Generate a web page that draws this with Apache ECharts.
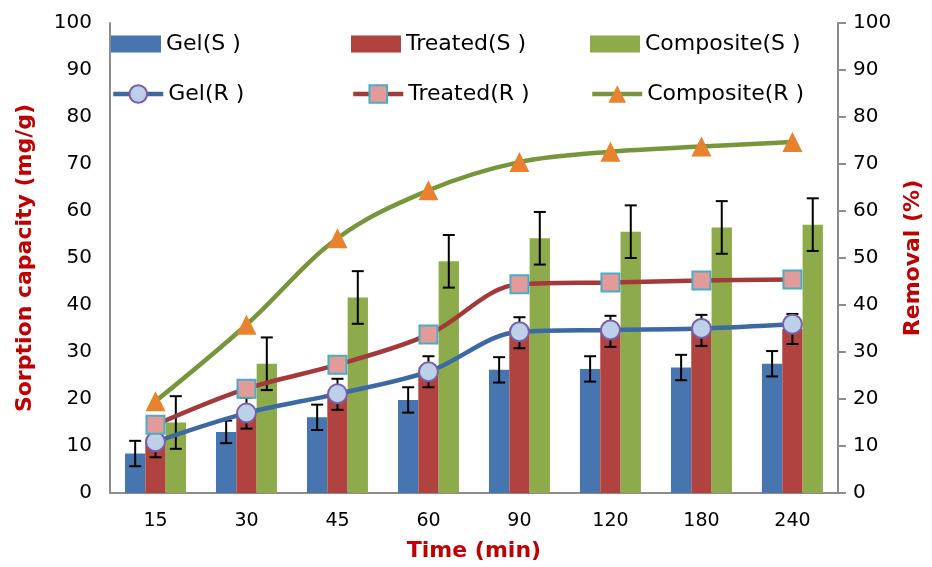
<!DOCTYPE html>
<html>
<head>
<meta charset="utf-8">
<script src="https://cdn.jsdelivr.net/npm/echarts@6/dist/echarts.min.js"></script>
<style>html,body{margin:0;padding:0;background:#fff}#c{width:932px;height:567px}</style>
</head>
<body>
<div id="c"></div>
<script>
const categories = ['15','30','45','60','90','120','180','240'];
const gelS = [8.4, 13.0, 16.1, 19.8, 26.2, 26.4, 26.7, 27.5];
const treatedS = [10.9, 17.0, 21.0, 25.8, 34.1, 34.4, 34.6, 34.9];
const compositeS = [15.0, 27.5, 41.6, 49.3, 54.2, 55.6, 56.5, 57.1];
const gelErr = [2.7, 2.4, 2.7, 2.7, 2.7, 2.7, 2.7, 2.7];
const treatedErr = [3.3, 3.3, 3.3, 3.3, 3.3, 3.3, 3.3, 3.2];
const compositeErr = [5.6, 5.6, 5.6, 5.6, 5.6, 5.6, 5.6, 5.6];
const gelR = [10.9, 17.0, 21.1, 25.8, 34.3, 34.7, 35.0, 35.9];
const treatedR = [14.5, 22.2, 27.3, 33.7, 44.4, 44.8, 45.2, 45.4];
const compositeR = [19.5, 35.8, 54.2, 64.4, 70.4, 72.6, 73.7, 74.7];
const barNames = ['Gel(S )', 'Treated(S )', 'Composite(S )'];
const lineNames = ['Gel(R )', 'Treated(R )', 'Composite(R )'];

const FONT = 'DejaVu Sans';
const GAP = 0.33;
const barColors = ['#4675b0', '#b0433f', '#8dab4b'];
const legendLeft = [106, 346, 585];

function errData(vals, errs, idx) {
  return vals.map((v, i) => [i, v, errs[i], idx]);
}

const errRender = function (params, api) {
  const cat = api.value(0), val = api.value(1), err = api.value(2), idx = api.value(3);
  const band = api.size([1, 0])[0];
  const bw = band * (1 - GAP) / 3;
  const x = api.coord([cat, val])[0] + (idx - 1) * bw;
  const yt = api.coord([cat, val + err])[1];
  const yb = api.coord([cat, val - err])[1];
  const cap = 6;
  const style = { stroke: '#000', lineWidth: 2 };
  return {
    type: 'group',
    children: [
      { type: 'line', shape: { x1: x, y1: yt, x2: x, y2: yb }, style },
      { type: 'line', shape: { x1: x - cap, y1: yt, x2: x + cap, y2: yt }, style },
      { type: 'line', shape: { x1: x - cap, y1: yb, x2: x + cap, y2: yb }, style }
    ]
  };
};

const textStyle = { fontFamily: FONT, fontSize: 22, color: '#000' };
const legends = [];
barNames.forEach((n, i) => legends.push({
  left: legendLeft[i], top: 28, itemWidth: 50, itemHeight: 17, itemTextGap: 5,
  data: [{ name: n, icon: 'rect' }], textStyle
}));
lineNames.forEach((n, i) => legends.push({
  left: legendLeft[i], top: 78, itemWidth: 50, itemHeight: 22, itemTextGap: 5,
  data: [n], textStyle, lineStyle: { width: 4.5 }
}));

const chart = echarts.init(document.getElementById('c'), null, { renderer: 'canvas' });
chart.setOption({
  animation: false,
  backgroundColor: '#fff',
  textStyle: { fontFamily: FONT },
  grid: { left: 110, right: 79, top: 23, bottom: 74 },
  legend: legends,
  xAxis: {
    type: 'category', data: categories,
    axisLine: { lineStyle: { color: '#8c8c8c', width: 2 } },
    axisTick: { show: false },
    axisLabel: { fontFamily: FONT, fontSize: 19, color: '#000', margin: 19 },
    name: 'Time (min)', nameLocation: 'middle', nameGap: 47,
    nameTextStyle: { fontFamily: FONT, fontSize: 22, fontWeight: 'bold', color: '#c00000' }
  },
  yAxis: [
    {
      type: 'value', min: 0, max: 100, interval: 10,
      axisLine: { show: true, lineStyle: { color: '#8c8c8c', width: 2 } },
      axisTick: { show: false }, splitLine: { show: false },
      axisLabel: { fontFamily: FONT, fontSize: 20, color: '#000', margin: 18 },
      name: 'Sorption capacity (mg/g)', nameLocation: 'middle', nameGap: 74, nameRotate: 90,
      nameTextStyle: { fontFamily: FONT, fontSize: 22, fontWeight: 'bold', color: '#c00000' }
    },
    {
      type: 'value', min: 0, max: 100, interval: 10, position: 'right',
      axisLine: { show: true, lineStyle: { color: '#8c8c8c', width: 2 } },
      axisTick: { show: true, inside: false, length: 8, lineStyle: { color: '#8c8c8c', width: 2 } },
      splitLine: { show: false },
      axisLabel: { fontFamily: FONT, fontSize: 20, color: '#000', margin: 15 },
      name: 'Removal (%)', nameLocation: 'middle', nameGap: 62, nameRotate: 90,
      nameTextStyle: { fontFamily: FONT, fontSize: 22, fontWeight: 'bold', color: '#c00000' }
    }
  ],
  series: [
    { name: barNames[0], type: 'bar', data: gelS, barGap: '0%', barCategoryGap: (GAP * 100) + '%', itemStyle: { color: barColors[0] }, z: 2 },
    { name: barNames[1], type: 'bar', data: treatedS, barGap: '0%', barCategoryGap: (GAP * 100) + '%', itemStyle: { color: barColors[1] }, z: 2 },
    { name: barNames[2], type: 'bar', data: compositeS, barGap: '0%', barCategoryGap: (GAP * 100) + '%', itemStyle: { color: barColors[2] }, z: 2 },
    { type: 'custom', renderItem: errRender, data: errData(gelS, gelErr, 0), encode: { x: 0, y: 1 }, z: 3, silent: true },
    { type: 'custom', renderItem: errRender, data: errData(treatedS, treatedErr, 1), encode: { x: 0, y: 1 }, z: 3, silent: true },
    { type: 'custom', renderItem: errRender, data: errData(compositeS, compositeErr, 2), encode: { x: 0, y: 1 }, z: 3, silent: true },
    {
      name: lineNames[0], type: 'line', yAxisIndex: 1, data: gelR, smooth: 0.35, z: 5,
      symbol: 'circle', symbolSize: 19,
      lineStyle: { color: '#3c69a4', width: 4.5 },
      itemStyle: { color: '#bcd0ea', borderColor: '#7a5ea6', borderWidth: 2 }
    },
    {
      name: lineNames[1], type: 'line', yAxisIndex: 1, data: treatedR, smooth: 0.35, z: 5,
      symbol: 'rect', symbolSize: 18,
      lineStyle: { color: '#a3393a', width: 4.5 },
      itemStyle: { color: '#e39b9a', borderColor: '#4bacc6', borderWidth: 2 }
    },
    {
      name: lineNames[2], type: 'line', yAxisIndex: 1, data: compositeR, smooth: 0.35, z: 5,
      symbol: 'triangle', symbolSize: 20,
      lineStyle: { color: '#77963b', width: 4.5 },
      itemStyle: { color: '#e8822f', borderWidth: 0 }
    }
  ]
});
</script>
</body>
</html>
